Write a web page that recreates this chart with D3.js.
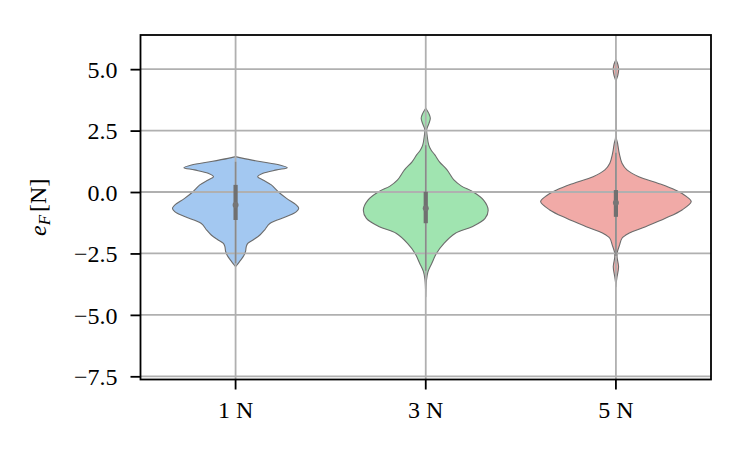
<!DOCTYPE html>
<html>
<head>
<meta charset="utf-8">
<script src="https://cdn.jsdelivr.net/npm/d3@7"></script>
<style>
  html, body { margin: 0; padding: 0; background: #fff; }
  svg { display: block; }
  text { font-family: "Liberation Serif", "Times New Roman", serif; fill: #000; }
</style>
</head>
<body>
<svg id="chart" width="746" height="452"></svg>
<script>
// ---------------- data ----------------
const categories = ["1 N", "3 N", "5 N"];
const yTicks = [-7.5, -5.0, -2.5, 0.0, 2.5, 5.0];
const yLabelMain = "e";
const yLabelSub = "F";
const yLabelUnit = "[N]";

// density profiles: [value, relative half-width]
const density1N = [
  [1.44, 0], [1.37, 0.10], [1.24, 0.32], [1.10, 0.58], [0.99, 0.68], [0.90, 0.54],
  [0.76, 0.36], [0.62, 0.29], [0.49, 0.36], [0.29, 0.47], [0.01, 0.56], [-0.26, 0.67],
  [-0.53, 0.80], [-0.66, 0.83], [-0.80, 0.80], [-1.00, 0.67], [-1.28, 0.45], [-1.55, 0.38],
  [-1.75, 0.32], [-1.95, 0.23], [-2.09, 0.16], [-2.23, 0.14], [-2.43, 0.13], [-2.63, 0.10],
  [-2.84, 0.05], [-3.04, 0]
];
const density3N = [
  [3.41, 0], [3.20, 0.04], [3.00, 0.06], [2.77, 0.04], [2.55, 0.013], [2.25, 0.02],
  [1.91, 0.04], [1.71, 0.07], [1.51, 0.12], [1.23, 0.18], [0.90, 0.28], [0.49, 0.37],
  [0.24, 0.47], [0.01, 0.62], [-0.33, 0.76], [-0.73, 0.82], [-1.07, 0.78], [-1.41, 0.61],
  [-1.68, 0.39], [-2.09, 0.24], [-2.50, 0.14], [-2.90, 0.08], [-3.24, 0.03], [-3.58, 0.01],
  [-4.26, 0]
];
const density5N = [
  [5.38, 0], [5.20, 0.025], [4.97, 0.036], [4.75, 0.025], [4.55, 0.005], [4.30, 0.003],
  [2.50, 0.003], [2.19, 0.006], [1.98, 0.022], [1.57, 0.044], [1.17, 0.08], [0.90, 0.145],
  [0.62, 0.30], [0.35, 0.56], [0.08, 0.78], [-0.19, 0.93], [-0.39, 0.99], [-0.73, 0.87],
  [-1.07, 0.65], [-1.41, 0.39], [-1.68, 0.17], [-1.88, 0.08], [-2.16, 0.048], [-2.43, 0.02],
  [-2.65, 0.015], [-3.04, 0.035], [-3.45, 0.015], [-3.72, 0.003], [-3.85, 0]
];
const densities = [density1N, density3N, density5N];

// box statistics: [whiskerLow, q1, median, q3, whiskerHigh]
const boxStats1N = [-2.90, -1.14, -0.53, 0.29, 1.23];
const boxStats3N = [-3.20, -1.27, -0.66, 0.01, 1.90];
const boxStats5N = [-2.60, -1.01, -0.44, 0.08, 1.60];
const boxStats = [boxStats1N, boxStats3N, boxStats5N];

const fillColors = ["#a3c8f1", "#a0e4b0", "#f1aaa7"];

// ---------------- layout ----------------
const svg = d3.select("#chart");
const mLeft = 140.5, mRight = 711, mTop = 35, mBottom = 379.5;

const x = d3.scaleBand().domain(categories).range([mLeft, mRight]).padding(0);
const y = d3.scaleLinear().domain([-7.63, 6.39]).range([mBottom, mTop]);
const w = d3.scaleLinear().domain([0, 1]).range([0, x.bandwidth() * 0.4]);

// violins
categories.forEach((c, i) => {
  const cx = x(c) + x.bandwidth() / 2;
  const area = d3.area()
    .y(d => y(d[0]))
    .x0(d => cx - w(d[1]))
    .x1(d => cx + w(d[1]))
    .curve(d3.curveCatmullRom.alpha(0.5));
  svg.append("path")
    .datum(densities[i])
    .attr("d", area)
    .attr("fill", fillColors[i])
    .attr("stroke", "#6c6c6c")
    .attr("stroke-width", 1.1)
    .attr("stroke-linejoin", "round");
});

// grid
const grid = svg.append("g");
grid.selectAll("line.h").data(yTicks).join("line")
  .attr("x1", mLeft).attr("x2", mRight)
  .attr("y1", d => y(d)).attr("y2", d => y(d))
  .attr("stroke", "#b0b0b0").attr("stroke-width", 1.8);
grid.selectAll("line.v").data(categories).join("line")
  .attr("x1", d => x(d) + x.bandwidth() / 2).attr("x2", d => x(d) + x.bandwidth() / 2)
  .attr("y1", mTop).attr("y2", mBottom)
  .attr("stroke", "#b0b0b0").attr("stroke-width", 1.8);

// inner boxes
categories.forEach((c, i) => {
  const cx = x(c) + x.bandwidth() / 2;
  const s = boxStats[i];
  svg.append("line")
    .attr("x1", cx).attr("x2", cx)
    .attr("y1", y(s[0])).attr("y2", y(s[4]))
    .attr("stroke", "#8a8a8a").attr("stroke-width", 1.5);
  svg.append("line")
    .attr("x1", cx).attr("x2", cx)
    .attr("y1", y(s[1])).attr("y2", y(s[3]))
    .attr("stroke", "#707070").attr("stroke-width", 4.2);
  svg.append("circle")
    .attr("cx", cx).attr("cy", y(s[2])).attr("r", 3)
    .attr("fill", "#767676");
});

// axes
const yAxis = d3.axisLeft(y).tickValues(yTicks).tickSize(10).tickPadding(13)
  .tickFormat(d => d3.format(".1f")(d).replace("-", "\u2212"));
const gy = svg.append("g").attr("transform", `translate(${mLeft},0)`).call(yAxis);
gy.select(".domain").remove();
gy.selectAll(".tick line").attr("stroke", "#000").attr("stroke-width", 1.8);
gy.selectAll(".tick text").attr("font-size", 24).attr("dy", "0.34em")
  .attr("font-family", "Liberation Serif");

const xAxis = d3.axisBottom(x).tickSize(10).tickPadding(12);
const gx = svg.append("g").attr("transform", `translate(0,${mBottom})`).call(xAxis);
gx.select(".domain").remove();
gx.selectAll(".tick line").attr("stroke", "#000").attr("stroke-width", 1.8);
gx.selectAll(".tick text").attr("font-size", 24).attr("dy", null).attr("y", 38.5)
  .attr("font-family", "Liberation Serif");

// spines
svg.append("rect")
  .attr("x", mLeft).attr("y", mTop)
  .attr("width", mRight - mLeft).attr("height", mBottom - mTop)
  .attr("fill", "none").attr("stroke", "#000").attr("stroke-width", 1.8);

// y label
const yl = svg.append("text")
  .attr("transform", `translate(46,${(mTop + mBottom) / 2}) rotate(-90)`)
  .attr("text-anchor", "middle")
  .attr("font-size", 24);
yl.append("tspan").attr("font-style", "italic").text(yLabelMain);
yl.append("tspan").attr("font-style", "italic").attr("font-size", 17).attr("dy", 4).text(yLabelSub);
yl.append("tspan").attr("dy", -4).attr("dx", 3).text(yLabelUnit);
</script>
</body>
</html>
